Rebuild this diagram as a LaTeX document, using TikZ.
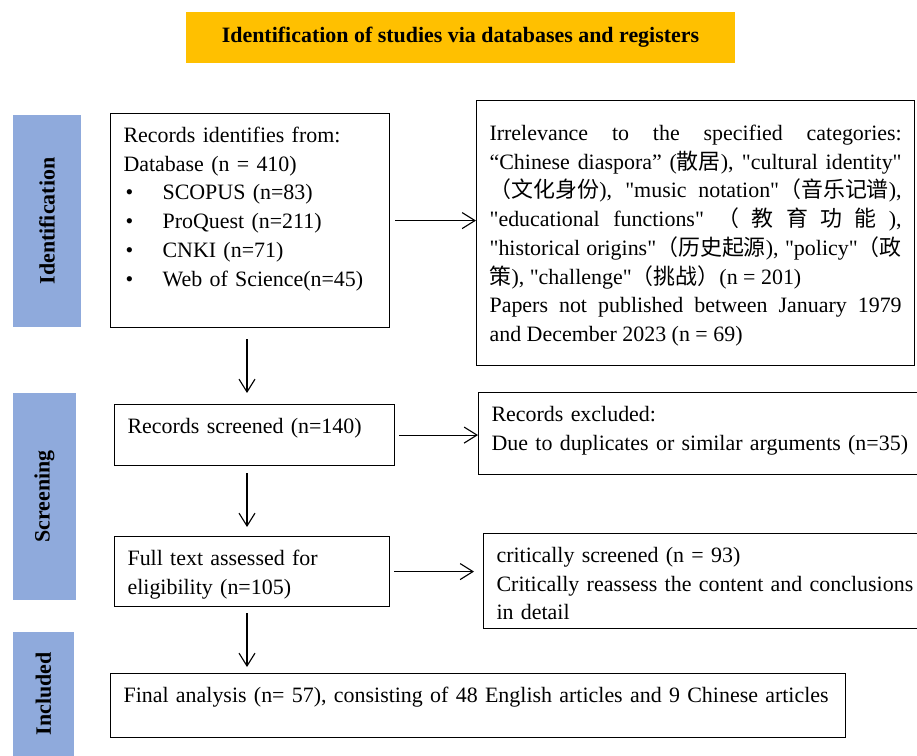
\documentclass[tikz,border=0pt]{standalone}
\usepackage{fontspec}
\setmainfont{Liberation Serif}[Ligatures=TeXOff]
\newfontfamily\cjk{Noto Sans CJK SC}
\usetikzlibrary{arrows.meta}

\definecolor{stagegold}{HTML}{FFC000}
\definecolor{stageblue}{HTML}{8FAADC}

\begin{document}
\begin{tikzpicture}[x=0.025cm, y=-0.025cm, font=\fontsize{15.6}{20.4}\selectfont,
    >={Straight Barb[length=0.32cm,width=0.4cm]}, line width=0.8pt]
    \tikzset{
        stage/.style 2 args={
            draw, anchor=north west, align=left,
            inner xsep=0.325cm, inner ysep=0.35cm,
            text height=0.375cm, text width=#1, text depth=#2
        },
        phase/.style={
            fill=stageblue, rotate=90, inner sep=0pt,
            font=\fontsize{15.6}{18}\selectfont\bfseries
        }
    }
    \useasboundingbox (0,0) rectangle (917,756);

    \node[fill=stagegold, minimum width=13.725cm, minimum height=1.275cm,
        font=\fontsize{15.6}{18}\selectfont\bfseries] (title) at (460.5,37.5)
        {Identification of studies via databases and registers};

    \node[phase, minimum width=5.3cm, minimum height=1.7cm] (idbar) at (47,221) {Identification};
    \node[phase, minimum width=5.175cm, minimum height=1.575cm] (scbar) at (44.5,496.5) {Screening};
    \node[phase, minimum width=3.1cm, minimum height=1.525cm] (incbar) at (43.5,694) {Included};

    \node[stage={6.325cm}{4.275cm}] (rec) at (110,113) {Records identifies from:\\
        Database (n = 410)\\
        \makebox[0.975cm][l]{\hspace{0.05cm}\textbullet}SCOPUS (n=83)\\
        \makebox[0.975cm][l]{\hspace{0.05cm}\textbullet}ProQuest (n=211)\\
        \makebox[0.975cm][l]{\hspace{0.05cm}\textbullet}CNKI (n=71)\\
        \makebox[0.975cm][l]{\hspace{0.05cm}\textbullet}Web of Science(n=45)};
    \node[stage={10.3cm}{5.275cm}, text height=0.65cm, align=justify] (irr) at (476,100)
        {Irrelevance to the specified categories:\linebreak
        “Chinese diaspora” ({\cjk 散居}), "cultural identity"\linebreak
        {\cjk （文化身份}), "music notation"{\cjk （音乐记谱}),\linebreak
        "educational functions" {\cjk （ 教 育 功 能 }),\linebreak
        "historical origins"{\cjk （历史起源}), "policy"{\cjk （政}\linebreak
        {\cjk 策}), "challenge"{\cjk （挑战）}(n = 201)\\
        Papers not published between January 1979\linebreak
        and December 2023 (n = 69)};

    \node[stage={6.35cm}{0.45cm}] (scr) at (114,404) {Records screened (n=140)};
    \node[stage={10.65cm}{0.975cm}] (exc) at (478,392) {Records excluded:\\
        Due to duplicates or similar arguments (n=35)};
    \node[stage={6.225cm}{0.675cm}] (full) at (114,536) {Full text assessed for\\
        eligibility (n=105)};
    \node[stage={10.525cm}{1.3cm}] (crit) at (483,533) {critically screened (n = 93)\\
        Critically reassess the content and conclusions\\
        in detail};
    \node[stage={17.725cm}{0.525cm}] (fin) at (110,673)
        {Final analysis (n= 57), consisting of 48 English articles and 9 Chinese articles};

    % flow
    \coordinate (spine) at (247,0);
    \draw[->, shorten <=0.125cm] (rec.east) -- (rec.east -| irr.west);
    \draw[->, shorten <=0.275cm, shorten >=0.275cm] (rec.south -| spine) -- (scr.north -| spine);
    \draw[->, shorten <=0.1cm] (scr.east) -- (scr.east -| exc.west);
    \draw[->, shorten <=0.175cm, shorten >=0.225cm] (scr.south -| spine) -- (full.north -| spine);
    \draw[->, shorten <=0.1cm, shorten >=0.225cm] (full.east) -- (full.east -| crit.west);
    \draw[->, shorten <=0.15cm, shorten >=0.15cm] (full.south -| spine) -- (fin.north -| spine);
\end{tikzpicture}
\end{document}
